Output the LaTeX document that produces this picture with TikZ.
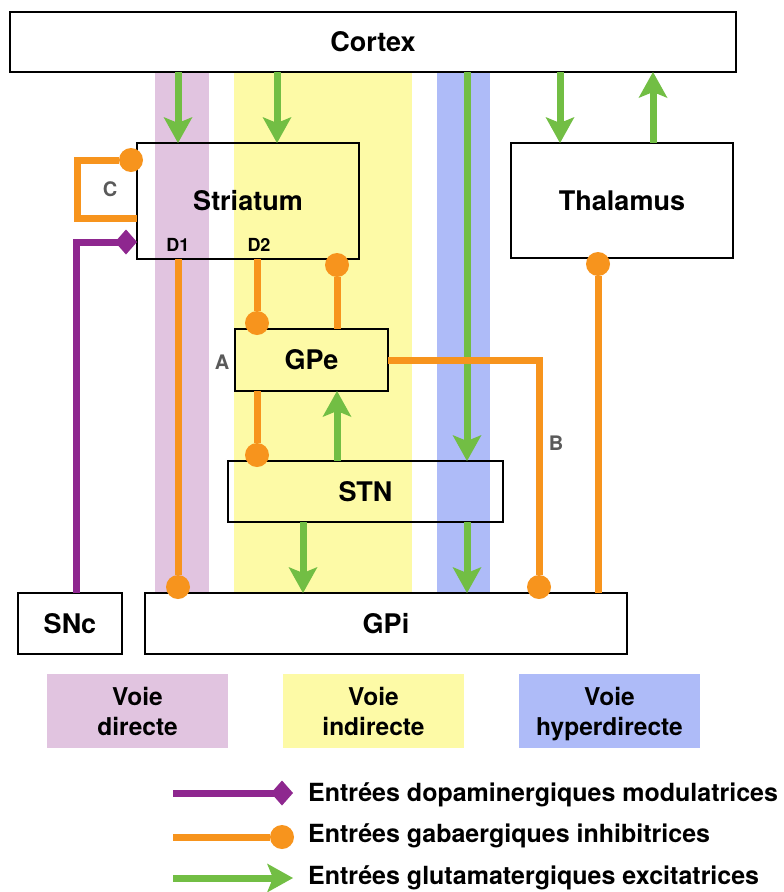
\documentclass[tikz,border=0pt]{standalone}
\usepackage{fontspec}
\setmainfont{TeX Gyre Heros}
\usetikzlibrary{arrows.meta}
\definecolor{bandP}{RGB}{225,196,224}
\definecolor{bandY}{RGB}{253,250,166}
\definecolor{bandB}{RGB}{174,187,248}
\definecolor{cGreen}{RGB}{114,190,68}
\definecolor{cOrange}{RGB}{247,148,29}
\definecolor{cPurple}{RGB}{142,39,143}
\definecolor{cGray}{RGB}{90,90,90}
\tikzset{
  box/.style={draw=black, line width=2pt, outer sep=0pt, inner sep=0pt, font=\fontsize{27}{32}\selectfont\bfseries},
  exc/.style={draw=cGreen, line width=7pt, -{Stealth[length=26pt,width=29pt,inset=6pt,line width=0pt]}},
  inh/.style={draw=cOrange, line width=7pt, -{Circle[length=24pt,line width=0pt]}, shorten >=-6pt},
  dopa/.style={draw=cPurple, line width=7pt, -{Diamond[length=22pt,width=25pt,line width=0pt]}},
  small/.style={font=\fontsize{18}{20}\selectfont\bfseries, inner sep=0pt},
  letter/.style={font=\fontsize{20}{22}\selectfont\bfseries, text=cGray, inner sep=0pt},
  voie/.style={inner sep=0pt, outer sep=0pt, minimum width=181pt, minimum height=74pt, align=center, font=\fontsize{24.5}{30}\selectfont\bfseries},
  legtxt/.style={anchor=west, inner sep=0pt, font=\fontsize{25}{28}\selectfont\bfseries}
}
\begin{document}
\begin{tikzpicture}[x=1pt,y=-1pt]
\useasboundingbox[fill=white] (0,0) rectangle (784,892);
% bands
\fill[bandP] (155,72) rectangle (209,593);
\fill[bandY] (234,72) rectangle (412,593);
\fill[bandB] (437,72) rectangle (490,593);
% boxes
\node[box, minimum width=726pt, minimum height=60pt] (cortex) at (373,42) {Cortex};
\node[box, minimum width=222pt, minimum height=116pt] (striatum) at (248,201) {Striatum};
\node[box, minimum width=222pt, minimum height=115pt] (thalamus) at (622,200.5) {Thalamus};
\node[box, minimum width=153pt, minimum height=62pt] (gpe) at (311.5,360) {GPe};
\node[box, minimum width=275pt, minimum height=61pt] (stn) at (365.5,491.5) {STN};
\node[box, minimum width=482pt, minimum height=61pt] (gpi) at (386,623.5) {GPi};
\node[box, minimum width=104pt, minimum height=61pt] (snc) at (70,623.5) {SNc};
% x positions
\coordinate (xD1) at (178,0);
\coordinate (xD2g) at (277,0);
\coordinate (xD2) at (257,0);
\coordinate (xG) at (337,0);
\coordinate (xSG) at (303,0);
\coordinate (xHyp) at (467,0);
\coordinate (xB) at (539,0);
\coordinate (xTh) at (598,0);
\coordinate (xCT) at (560,0);
\coordinate (xTC) at (653,0);
\coordinate (xSNc) at (76,0);
\coordinate (yP) at (0,242);
\coordinate (yC1) at (0,218);
\coordinate (cLoop) at (77,160);
% excitatory
\draw[exc] (cortex.south -| xD1) -- (striatum.north -| xD1);
\draw[exc] (cortex.south -| xD2g) -- (striatum.north -| xD2g);
\draw[exc] (cortex.south -| xHyp) -- (stn.north -| xHyp);
\draw[exc] (stn.south -| xHyp) -- (gpi.north -| xHyp);
\draw[exc] (stn.north -| xG) -- (gpe.south -| xG);
\draw[exc] (stn.south -| xSG) -- (gpi.north -| xSG);
\draw[exc] (cortex.south -| xCT) -- (thalamus.north -| xCT);
\draw[exc] (thalamus.north -| xTC) -- (cortex.south -| xTC);
% inhibitory
\draw[inh] (striatum.west |- yC1) -| (cLoop) -- (striatum.west |- cLoop);
\draw[inh] (striatum.south -| xD1) -- (gpi.north -| xD1);
\draw[inh] (striatum.south -| xD2) -- (gpe.north -| xD2);
\draw[inh] (gpe.north -| xG) -- (striatum.south -| xG);
\draw[inh] (gpe.south -| xD2) -- (stn.north -| xD2);
\draw[inh] (gpe.east) -| (gpi.north -| xB);
\draw[inh] (gpi.north -| xTh) -- (thalamus.south -| xTh);
% dopaminergic
\draw[dopa] (snc.north -| xSNc) |- (striatum.west |- yP);
% labels
\node[small] (d1) at (178,245) {D1};
\node[small] (d2) at (259,245) {D2};
\node[letter] (la) at (222,362) {A};
\node[letter] (lb) at (556,443) {B};
\node[letter] (lc) at (110,189) {C};
% pathway legend
\node[voie, fill=bandP] (vd) at (137.5,711) {Voie\\directe};
\node[voie, fill=bandY] (vi) at (373.5,711) {Voie\\indirecte};
\node[voie, fill=bandB] (vh) at (609.5,711) {Voie\\\raisebox{0pt}[\height][0pt]{hyperdirecte}};
% connector legend
\coordinate (l1a) at (173,793);
\coordinate (l1b) at (293,793);
\coordinate (l2a) at (173,837);
\coordinate (l2b) at (294,837);
\coordinate (l3a) at (173,878);
\coordinate (l3b) at (293,878);
\draw[dopa] (l1a) -- (l1b);
\draw[draw=cOrange, line width=7pt, -{Circle[length=24pt,line width=0pt]}] (l2a) -- (l2b);
\draw[exc] (l3a) -- (l3b);
\node[legtxt] (t1) at (308,795) {Entrées dopaminergiques modulatrices};
\node[legtxt] (t2) at (308,836) {Entrées gabaergiques inhibitrices};
\node[legtxt] (t3) at (308,878) {Entrées glutamatergiques excitatrices};
\end{tikzpicture}
\end{document}
